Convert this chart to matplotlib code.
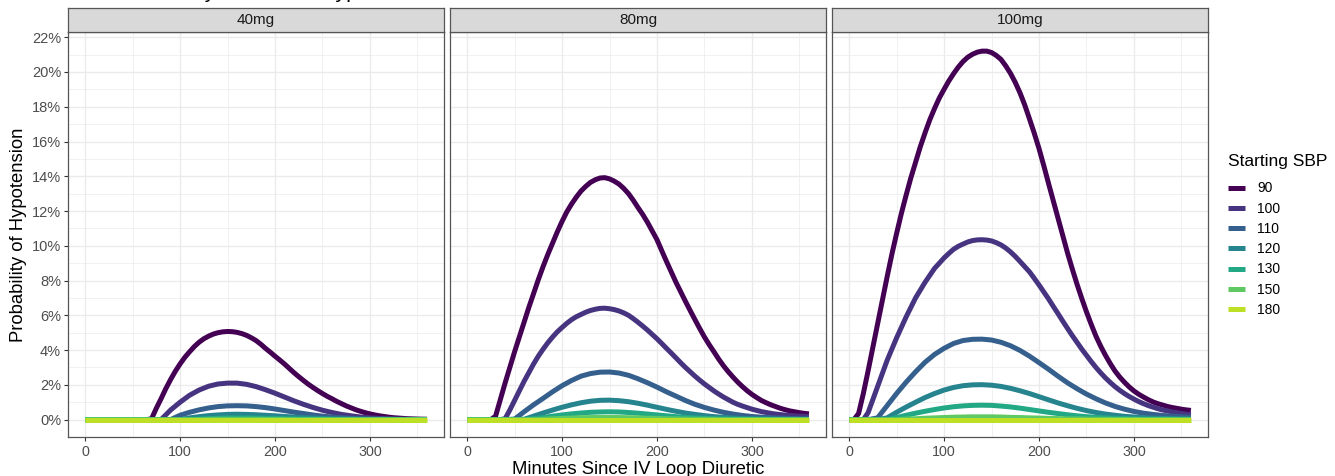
import numpy as np
import matplotlib
matplotlib.use("Agg")
import matplotlib.pyplot as plt
from matplotlib.lines import Line2D

plt.rcParams['font.family'] = ['Liberation Sans', 'DejaVu Sans']

# ---------------- data ----------------
minutes_10 = list(range(0, 361, 10))
minutes_5 = list(range(0, 361, 5))
doses = ['40mg', '80mg', '100mg']
sbp_levels = ['90', '100', '110', '120', '130', '150', '180']

# 5-minute readings for the large curves
p40_90 = [0, 0, 0, 0, 0, 0, 0, 0, 0, 0, 0, 0, 0, 0,
          0.05, 0.65, 1.2, 1.78, 2.3, 2.78, 3.2, 3.58, 3.9, 4.2, 4.45, 4.65, 4.8, 4.92, 5.0, 5.05,
          5.07, 5.06, 5.02, 4.95, 4.85, 4.71, 4.55, 4.34, 4.1, 3.88, 3.65, 3.43, 3.2, 2.95, 2.7,
          2.47, 2.25, 2.04, 1.85, 1.67, 1.5, 1.34, 1.2, 1.05, 0.92, 0.79, 0.68, 0.57, 0.48, 0.4,
          0.33, 0.27, 0.22, 0.18, 0.14, 0.11, 0.09, 0.07, 0.05, 0.04, 0.03, 0.025, 0.02]
p80_90 = [0, 0, 0, 0, 0, 0,
          0.2, 1.15, 2.1, 3.0, 3.9, 4.75, 5.6, 6.45, 7.25, 8.05, 8.8, 9.5, 10.15, 10.8, 11.4,
          11.95, 12.4, 12.8, 13.15, 13.42, 13.65, 13.8, 13.9, 13.92, 13.85, 13.72, 13.55, 13.3,
          13.0, 12.62, 12.2, 11.8, 11.35, 10.85, 10.35, 9.72, 9.1, 8.5, 7.9, 7.35, 6.8, 6.27,
          5.75, 5.24, 4.75, 4.31, 3.9, 3.48, 3.1, 2.76, 2.45, 2.16, 1.9, 1.66, 1.45, 1.27, 1.1,
          0.97, 0.85, 0.75, 0.65, 0.57, 0.5, 0.45, 0.4, 0.36, 0.33]
p80_100 = [0, 0, 0, 0, 0, 0, 0, 0,
           0.05, 0.55, 1.1, 1.65, 2.2, 2.7, 3.2, 3.65, 4.05, 4.42, 4.75, 5.05, 5.3, 5.54, 5.75,
           5.92, 6.05, 6.18, 6.28, 6.35, 6.4, 6.41, 6.38, 6.33, 6.25, 6.14, 6.0, 5.81, 5.6, 5.38,
           5.15, 4.9, 4.65, 4.38, 4.1, 3.83, 3.55, 3.27, 3.0, 2.75, 2.5, 2.27, 2.05, 1.85, 1.65,
           1.47, 1.3, 1.15, 1.0, 0.88, 0.78, 0.69, 0.6, 0.53, 0.46, 0.41, 0.36, 0.32, 0.29, 0.26,
           0.24, 0.22, 0.2, 0.19, 0.18]
p100_90 = [0, 0, 0.35, 1.5, 2.8, 4.15, 5.5, 6.85, 8.2, 9.5, 10.7, 11.85, 12.9, 13.9, 14.8, 15.7,
           16.5, 17.25, 17.9, 18.5, 19.0, 19.48, 19.9, 20.28, 20.6, 20.85, 21.02, 21.14, 21.2,
           21.2, 21.12, 20.95, 20.72, 20.35, 19.92, 19.4, 18.8, 18.1, 17.3, 16.48, 15.6, 14.62,
           13.6, 12.6, 11.6, 10.6, 9.6, 8.68, 7.8, 6.98, 6.2, 5.48, 4.8, 4.22, 3.7, 3.23, 2.8,
           2.45, 2.15, 1.88, 1.65, 1.46, 1.3, 1.15, 1.02, 0.92, 0.84, 0.76, 0.7, 0.65, 0.6, 0.56, 0.53]
p100_100 = [0, 0, 0, 0, 0.4, 1.15, 1.9, 2.65, 3.4, 4.05, 4.7, 5.3, 5.9, 6.45, 7.0, 7.45, 7.9, 8.3,
            8.7, 9.0, 9.3, 9.56, 9.8, 9.97, 10.1, 10.22, 10.3, 10.34, 10.35, 10.33, 10.28, 10.18,
            10.05, 9.87, 9.65, 9.39, 9.1, 8.8, 8.5, 8.13, 7.75, 7.35, 6.95, 6.52, 6.1, 5.67, 5.25,
            4.84, 4.45, 4.06, 3.7, 3.34, 3.0, 2.69, 2.4, 2.14, 1.9, 1.69, 1.5, 1.33, 1.18, 1.04,
            0.92, 0.81, 0.72, 0.63, 0.56, 0.5, 0.44, 0.39, 0.35, 0.31, 0.28]

# 10-minute readings for the smaller curves
p40_100 = [0, 0, 0, 0, 0, 0, 0, 0, 0, 0.55, 1.0, 1.4, 1.7, 1.92, 2.05, 2.1, 2.1, 2.03, 1.9,
           1.72, 1.52, 1.3, 1.08, 0.88, 0.7, 0.54, 0.41, 0.3, 0.22, 0.15, 0.1, 0.07, 0.05, 0.03, 0.02, 0.01, 0.01]
p40_110 = [0, 0, 0, 0, 0, 0, 0, 0, 0, 0, 0.25, 0.42, 0.56, 0.67, 0.75, 0.79, 0.8, 0.79, 0.75,
           0.69, 0.61, 0.52, 0.43, 0.35, 0.27, 0.2, 0.15, 0.11, 0.08, 0.05, 0.04, 0.03, 0.02, 0.01, 0.01, 0.01, 0.0]
p40_120 = [0, 0, 0, 0, 0, 0, 0, 0, 0, 0, 0, 0.1, 0.17, 0.23, 0.27, 0.3, 0.31, 0.3, 0.28,
           0.25, 0.22, 0.18, 0.15, 0.12, 0.09, 0.07, 0.05, 0.04, 0.03, 0.02, 0.01, 0.01, 0.01, 0, 0, 0, 0]
p40_130 = [0, 0, 0, 0, 0, 0, 0, 0, 0, 0, 0, 0, 0.03, 0.06, 0.08, 0.1, 0.1, 0.1, 0.09,
           0.08, 0.07, 0.05, 0.04, 0.03, 0.02, 0.02, 0.01, 0, 0, 0, 0, 0, 0, 0, 0, 0, 0]
p40_150 = [0, 0, 0, 0, 0, 0, 0, 0, 0, 0, 0, 0, 0, 0.01, 0.02, 0.02, 0.02, 0.02, 0.02,
           0.01, 0.01, 0.01, 0, 0, 0, 0, 0, 0, 0, 0, 0, 0, 0, 0, 0, 0, 0]
p40_180 = [0] * 37

p80_110 = [0, 0, 0, 0, 0, 0.03, 0.45, 0.85, 1.22, 1.6, 1.95, 2.25, 2.5, 2.65, 2.73, 2.74, 2.68, 2.55, 2.35,
           2.12, 1.87, 1.6, 1.35, 1.1, 0.88, 0.7, 0.55, 0.42, 0.32, 0.24, 0.18, 0.14, 0.11, 0.09, 0.07, 0.06, 0.05]
p80_120 = [0, 0, 0, 0, 0, 0, 0.02, 0.2, 0.38, 0.55, 0.71, 0.85, 0.97, 1.06, 1.11, 1.12, 1.09, 1.03, 0.94,
           0.83, 0.71, 0.59, 0.48, 0.38, 0.3, 0.23, 0.17, 0.13, 0.1, 0.07, 0.05, 0.04, 0.03, 0.02, 0.02, 0.01, 0.01]
p80_130 = [0, 0, 0, 0, 0, 0, 0, 0.05, 0.12, 0.2, 0.27, 0.33, 0.38, 0.42, 0.44, 0.45, 0.44, 0.41, 0.37,
           0.32, 0.27, 0.22, 0.17, 0.13, 0.1, 0.08, 0.06, 0.04, 0.03, 0.02, 0.02, 0.01, 0.01, 0.01, 0, 0, 0]
p80_150 = [0, 0, 0, 0, 0, 0, 0, 0, 0.02, 0.05, 0.07, 0.09, 0.11, 0.12, 0.12, 0.12, 0.12, 0.11, 0.1,
           0.08, 0.07, 0.05, 0.04, 0.03, 0.02, 0.02, 0.01, 0, 0, 0, 0, 0, 0, 0, 0, 0, 0]
p80_180 = [0] * 37

p100_110 = [0, 0, 0, 0.1, 0.8, 1.5, 2.15, 2.75, 3.3, 3.75, 4.1, 4.38, 4.55, 4.62, 4.63, 4.58, 4.45, 4.25, 3.98,
            3.65, 3.28, 2.9, 2.5, 2.12, 1.78, 1.47, 1.2, 0.96, 0.76, 0.6, 0.47, 0.37, 0.3, 0.24, 0.2, 0.17, 0.14]
p100_120 = [0, 0, 0, 0, 0.1, 0.42, 0.72, 1.0, 1.27, 1.5, 1.7, 1.85, 1.95, 2.0, 2.01, 1.98, 1.91, 1.8, 1.66,
            1.5, 1.32, 1.14, 0.96, 0.8, 0.65, 0.52, 0.41, 0.32, 0.25, 0.19, 0.15, 0.11, 0.09, 0.07, 0.06, 0.05, 0.04]
p100_130 = [0, 0, 0, 0, 0, 0.12, 0.25, 0.37, 0.48, 0.58, 0.67, 0.74, 0.79, 0.82, 0.83, 0.82, 0.78, 0.73, 0.66,
            0.58, 0.5, 0.42, 0.35, 0.28, 0.22, 0.17, 0.13, 0.1, 0.08, 0.06, 0.04, 0.03, 0.03, 0.02, 0.02, 0.01, 0.01]
p100_150 = [0, 0, 0, 0, 0, 0, 0.03, 0.05, 0.08, 0.1, 0.12, 0.14, 0.15, 0.16, 0.16, 0.16, 0.15, 0.13, 0.12,
            0.1, 0.09, 0.07, 0.06, 0.04, 0.04, 0.03, 0.02, 0.02, 0.01, 0.01, 0.01, 0, 0, 0, 0, 0, 0]
p100_180 = [0] * 37

panels = {
    '40mg': [p40_90, p40_100, p40_110, p40_120, p40_130, p40_150, p40_180],
    '80mg': [p80_90, p80_100, p80_110, p80_120, p80_130, p80_150, p80_180],
    '100mg': [p100_90, p100_100, p100_110, p100_120, p100_130, p100_150, p100_180],
}

title_text = "Predicted Probability of Clinical Hypotension"
xlabel_text = "Minutes Since IV Loop Diuretic"
ylabel_text = "Probability of Hypotension"
legend_title = "Starting SBP"

# ---------------- styling ----------------
W, H = 1335, 476
DPI = 100
fig = plt.figure(figsize=(W / DPI, H / DPI), dpi=DPI)

colors = [plt.cm.viridis(v) for v in np.linspace(0, 0.9, len(sbp_levels))]
grid_col = '#EBEBEB'
border_col = '#555555'
tick_col = '#4D4D4D'

panel_lefts = [68, 450, 832]
panel_w = 376
panel_top, panel_bot = 32, 437
strip_top = 8


def fx(px):
    return px / W


def fy(py):
    return 1 - py / H


for i, dose in enumerate(doses):
    l = panel_lefts[i]
    ax = fig.add_axes([fx(l), fy(panel_bot), panel_w / W, (panel_bot - panel_top) / H])
    ax.set_xlim(-18, 378)
    ax.set_ylim(-1.0, 22.3)
    ax.set_xticks([0, 100, 200, 300])
    ax.set_xticks([50, 150, 250, 350], minor=True)
    ax.set_yticks(np.arange(0, 23, 2))
    ax.set_yticks(np.arange(1, 23, 2), minor=True)
    ax.grid(which='major', color=grid_col, linewidth=1.0, zorder=0)
    ax.grid(which='minor', color=grid_col, linewidth=0.5, zorder=0)
    ax.set_axisbelow(True)
    for sp in ax.spines.values():
        sp.set_color(border_col)
        sp.set_linewidth(0.9)
    ax.tick_params(which='major', length=3, width=0.8, color='#333333',
                   labelsize=10.3, labelcolor=tick_col, pad=2)
    ax.tick_params(which='minor', length=0)
    ax.tick_params(axis='x', pad=3)
    if i == 0:
        ax.set_yticklabels([f"{v}%" for v in range(0, 23, 2)])
        ax.tick_params(axis='y', labelsize=10.5)
    else:
        ax.tick_params(axis='y', labelleft=False, length=0)

    for s_i, vals in enumerate(panels[dose]):
        xs = minutes_5 if len(vals) == len(minutes_5) else minutes_10
        ax.plot(xs, vals, color=colors[s_i], linewidth=3.6,
                solid_capstyle='butt', solid_joinstyle='round', zorder=3 + s_i)

    # facet strip
    sax = fig.add_axes([fx(l), fy(panel_top), panel_w / W, (panel_top - strip_top) / H])
    sax.set_facecolor('#D9D9D9')
    sax.set_xticks([])
    sax.set_yticks([])
    for sp in sax.spines.values():
        sp.set_color(border_col)
        sp.set_linewidth(0.9)
    sax.text(0.5, 0.5, dose, ha='center', va='center', fontsize=11,
             color='#1A1A1A', transform=sax.transAxes)

# axis titles
fig.text(fx(638), fy(473.5), xlabel_text, ha='center', va='baseline', fontsize=13.3, color='black')
fig.text(fx(19), fy(234.5), ylabel_text, ha='center', va='center', rotation=90,
         fontsize=13.3, color='black')

# title (mostly cut off by the top edge in the reference) - place so descenders line up
fig.canvas.draw()
renderer = fig.canvas.get_renderer()


def text_width(s, fs):
    t = fig.text(0, 0.5, s, fontsize=fs)
    w = t.get_window_extent(renderer=renderer).width
    t.remove()
    return w


pre = "Predicted Probabilit"
upto = "Predicted Probability of Clinical H"
gap = text_width(upto, 15) - text_width(pre, 15)
title_fs = 15 * 131.0 / gap
x0 = 205 - text_width(pre, title_fs)
fig.text(fx(x0), fy(-2.3), title_text, ha='left', va='baseline', fontsize=title_fs, color='black')

# legend
handles = [Line2D([0], [0], color=c, linewidth=3.6, solid_capstyle='butt') for c in colors]
leg = fig.legend(handles, sbp_levels, loc='upper left',
                 bbox_to_anchor=(fx(1221), fy(147)), frameon=False,
                 title=legend_title, title_fontsize=12.5, fontsize=10,
                 handlelength=1.2, handletextpad=0.9, labelspacing=0.45,
                 borderpad=0, alignment='left')
leg._legend_box.sep = 9
for t in leg.get_texts():
    t.set_color('black')

fig.savefig('out.png', dpi=DPI)
